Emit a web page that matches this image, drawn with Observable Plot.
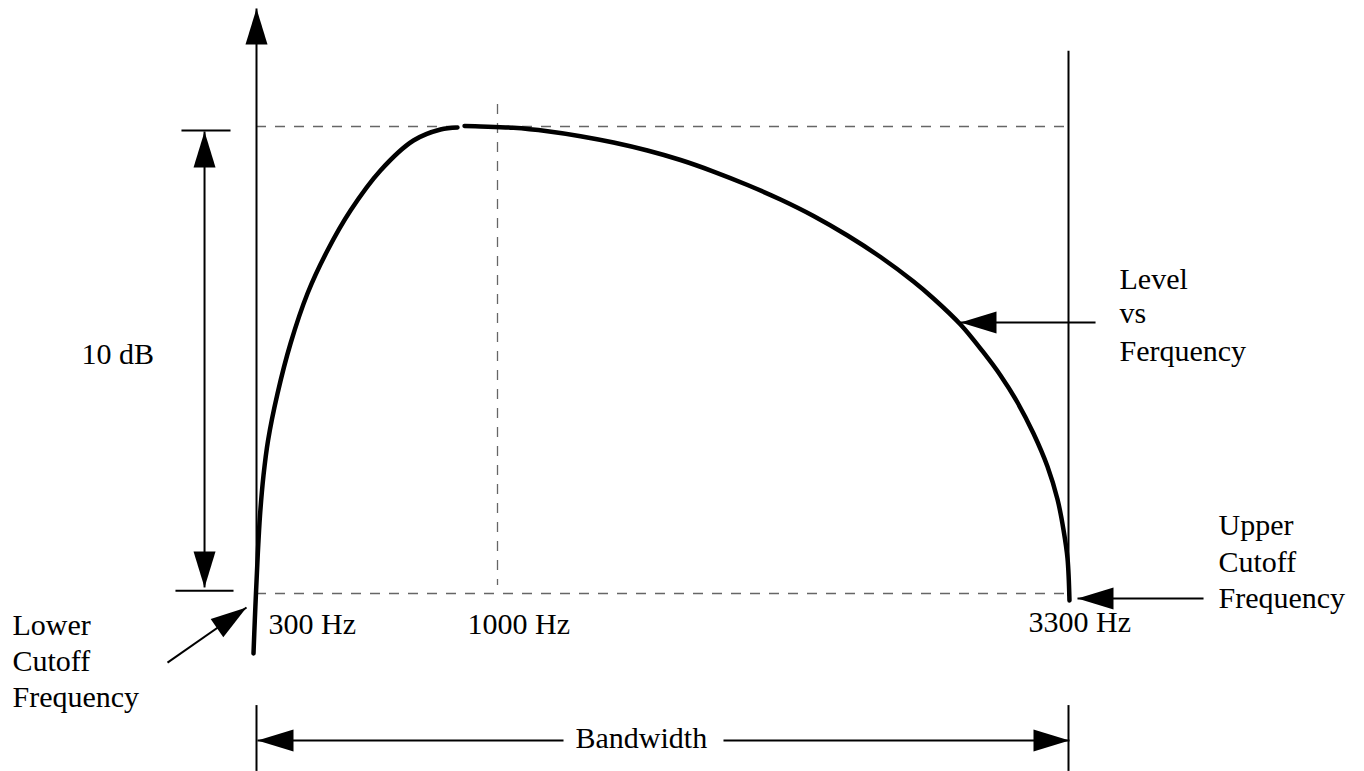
<!DOCTYPE html>
<html>
<head>
<meta charset="utf-8">
<script src="https://cdn.jsdelivr.net/npm/d3@7"></script>
<script src="https://cdn.jsdelivr.net/npm/@observablehq/plot@0.6"></script>
<style>
  html, body { margin: 0; padding: 0; background: #fff; }
  #chart svg { display: block; }
</style>
</head>
<body>
<div id="chart"></div>
<script>
// Horizontal position: 0 = lower cutoff (300 Hz), 100 = upper cutoff (3300 Hz)
// Vertical: level in dB relative to the peak (0 dB top, -10 dB bottom)

// Level vs frequency curve (two strokes, small gap near the peak)
const risePos = [-0.37, -0.21, -0.05, 0.15, 0.43, 0.86, 1.42, 2.59, 4.19, 6.28, 8.74, 11.58, 15.27, 19.33, 22.66, 24.75];
const riseDb  = [-11.285, -10.578, -9.936, -9.186, -8.330, -7.473, -6.724, -5.717, -4.647, -3.576, -2.655, -1.799, -0.942, -0.300, -0.064, -0.021];
const fallPos = [25.62, 27.59, 31.65, 35.84, 39.90, 43.97, 48.15, 52.22, 56.28, 60.47, 64.53, 68.60, 72.78, 76.85,
  80.91, 83.37, 86.70, 89.53, 91.63, 93.72, 95.69, 97.41, 98.65, 99.38, 99.88, 100.12];
const fallDb  = [0.01, 0, -0.028, -0.101, -0.207, -0.343, -0.514, -0.717, -0.964, -1.253, -1.563, -1.916, -2.334, -2.794,
  -3.319, -3.683, -4.240, -4.839, -5.332, -5.910, -6.574, -7.281, -7.987, -8.630, -9.251, -10.15];

// Reference markers
const peakFreqPos = 29.68;     // 1000 Hz
const lowCutPos = 0;           // 300 Hz
const highCutPos = 100;        // 3300 Hz
const peakDb = 0;
const cutDb = -10;

// Annotation arrows: tail -> tip
const arrowTailPos = [103.33, 116.63, -10.96, -6.40, -6.40, 37.81, 57.51, 0];
const arrowTailDb  = [-4.197, -10.107, -11.48, -5.0, -5.0, -13.148, -13.148, -10];
const arrowTipPos  = [86.70, 101.11, -1.23, -6.40, -6.40, 0.12, 100.12, 0];
const arrowTipDb   = [-4.197, -10.107, -10.30, -0.107, -9.87, -13.148, -13.148, 2.527];

// 10 dB bracket bars
const barPosFrom = [-9.24, -9.98];
const barPosTo   = [-3.20, -2.83];
const barDb      = [-0.086, -9.94];

// Bandwidth end ticks
const bwTickPos = [0, 100];
const bwTickDbFrom = -12.40;
const bwTickDbTo = -13.81;

// Text labels
const labelText = ["10 dB", "300 Hz", "1000 Hz", "3300 Hz",
  "Level", "vs", "Ferquency",
  "Upper", "Cutoff", "Frequency",
  "Lower", "Cutoff", "Frequency",
  "Bandwidth"];
const labelPos = [-21.55, 1.48, 25.99, 95.07,
  106.28, 106.28, 106.28,
  118.47, 118.47, 118.47,
  -30.05, -30.05, -30.05,
  39.29];
const labelDb = [-5.075, -10.857, -10.857, -10.835,
  -3.469, -4.218, -5.011,
  -8.758, -9.529, -10.300,
  -10.878, -11.649, -12.420,
  -13.319];

// ---------- build ----------
const W = 1364, H = 771;
const xOpt = {domain: [0, 100], range: [256, 1068]};
const yOpt = {domain: [-10, 0], range: [593, 126]};
const xs = Plot.scale({x: xOpt});
const ys = Plot.scale({y: yOpt});

const rise = risePos.map((x, i) => ({x, y: riseDb[i]}));
const fall = fallPos.map((x, i) => ({x, y: fallDb[i]}));
const arrows = arrowTailPos.map((x1, i) => ({x1, y1: arrowTailDb[i], x2: arrowTipPos[i], y2: arrowTipDb[i]}));
const bars = barDb.map((y, i) => ({x1: barPosFrom[i], x2: barPosTo[i], y}));
const labels = labelText.map((text, i) => ({text, x: labelPos[i], y: labelDb[i]}));

function headSymbol(angleDeg) {
  const t = angleDeg * Math.PI / 180, L = 36, HW = 11;
  const pts = [[0, 0], [-HW, L], [HW, L]].map(([px, py]) =>
    [px * Math.cos(t) - py * Math.sin(t), px * Math.sin(t) + py * Math.cos(t)]);
  return {draw(ctx) {
    ctx.moveTo(pts[0][0], pts[0][1]);
    ctx.lineTo(pts[1][0], pts[1][1]);
    ctx.lineTo(pts[2][0], pts[2][1]);
    ctx.closePath();
  }};
}

const headMarks = arrows.map(a => {
  const dx = xs.apply(a.x2) - xs.apply(a.x1);
  const dy = ys.apply(a.y2) - ys.apply(a.y1);
  const ang = Math.atan2(dx, -dy) * 180 / Math.PI;
  return Plot.dot([a], {x: "x2", y: "y2", symbol: headSymbol(ang), r: 5, fill: "black", stroke: "none"});
});

const dash = {stroke: "#666", strokeWidth: 1.3, strokeDasharray: "10,9"};

const chart = Plot.plot({
  width: W,
  height: H,
  x: {...xOpt, axis: null},
  y: {...yOpt, axis: null},
  style: {background: "#fff", fontFamily: "'Liberation Serif', 'Times New Roman', serif"},
  marks: [
    // dashed guides
    Plot.ruleY([peakDb], {x1: lowCutPos, x2: highCutPos, ...dash}),
    Plot.ruleY([cutDb], {x1: lowCutPos, x2: 99.6, ...dash}),
    Plot.ruleX([peakFreqPos], {y1: 0.47, y2: -9.83, ...dash}),
    // right edge solid line
    Plot.ruleX([highCutPos], {y1: 1.61, y2: -10.06, stroke: "black", strokeWidth: 2}),
    // bracket bars
    Plot.link(bars, {x1: "x1", x2: "x2", y1: "y", y2: "y", stroke: "black", strokeWidth: 2}),
    // bandwidth ticks
    Plot.ruleX(bwTickPos, {y1: bwTickDbFrom, y2: bwTickDbTo, stroke: "black", strokeWidth: 2}),
    // arrow shafts
    Plot.link(arrows, {x1: "x1", y1: "y1", x2: "x2", y2: "y2", stroke: "black", strokeWidth: 2}),
    ...headMarks,
    // curve
    Plot.line(rise, {x: "x", y: "y", curve: "catmull-rom", stroke: "black", strokeWidth: 4.5}),
    Plot.line(fall, {x: "x", y: "y", curve: "catmull-rom", stroke: "black", strokeWidth: 4.5}),
    // labels
    Plot.text(labels, {x: "x", y: "y", text: "text", textAnchor: "start", lineAnchor: "bottom",
      fontSize: 30, fill: "black", fontFamily: "'Liberation Serif', 'Times New Roman', serif"})
  ]
});
document.getElementById("chart").appendChild(chart);
</script>
</body>
</html>
